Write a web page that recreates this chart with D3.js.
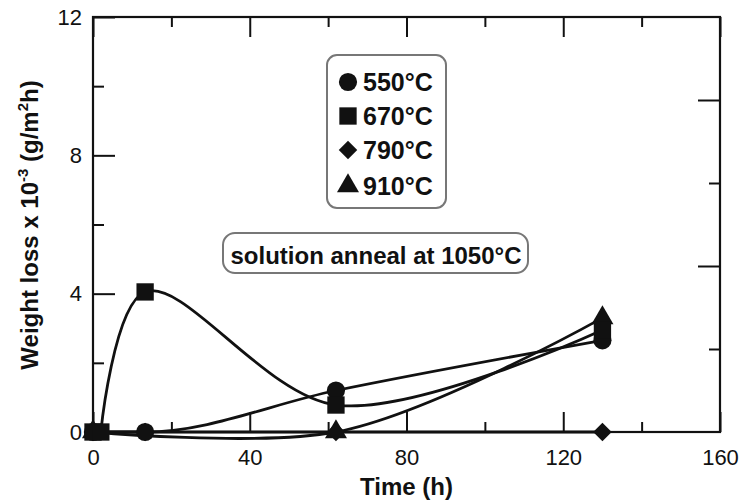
<!DOCTYPE html>
<html>
<head>
<meta charset="utf-8">
<script src="https://cdn.jsdelivr.net/npm/d3@7"></script>
<style>
  body { margin: 0; background: #fff; }
  svg { display: block; font-family: "Liberation Sans", Arial, sans-serif; }
</style>
</head>
<body>
<div id="chart"></div>
<script>
// Data (time in h, weight loss x 10^-3 g/m2h)
const series = ["550°C", "670°C", "790°C", "910°C"];
const time550 = [0, 13.3, 62, 130];
const loss550 = [0, 0, 1.2, 2.65];
const time670 = [0, 2, 13.3, 62, 130];
const loss670 = [0, 0, 4.05, 0.78, 2.95];
const time790 = [0, 13.3, 62, 130];
const loss790 = [0, 0, 0, 0];
const time910 = [0, 62, 130];
const loss910 = [0, 0, 3.3];

const xMajor = [0, 40, 80, 120, 160];
const xMinor = [20, 60, 100, 140];
const yMajor = [0, 4, 8, 12];
const yMinor = [2, 6, 10];

const width = 742, height = 502;

const x = d3.scaleLinear().domain([0, 160]).range([93, 720]);
const y = d3.scaleLinear().domain([0, 12]).range([432, 17]);
// right-hand frame has its own tick spacing in the original
const yRight = d3.scaleLinear().domain([0, 10]).range([432, 17]);

const svg = d3.select("#chart").append("svg")
    .attr("width", width)
    .attr("height", height);

const ink = "#111";

// axes: ticks drawn inward
function styleAxis(g) {
  g.select(".domain").remove();
  g.selectAll(".tick line").attr("stroke", ink).attr("stroke-width", 2);
  g.selectAll(".tick text").attr("fill", ink).style("font-size", "22px");
}

svg.append("g").attr("transform", `translate(0,${y(0)})`)
  .call(d3.axisBottom(x).tickValues(xMajor).tickSize(-20).tickPadding(17).tickFormat(d3.format("d")))
  .call(styleAxis);
svg.append("g").attr("transform", `translate(0,${y(0)})`)
  .call(d3.axisBottom(x).tickValues(xMinor).tickSize(-10).tickFormat(""))
  .call(styleAxis);
svg.append("g").attr("transform", `translate(0,${y(12)})`)
  .call(d3.axisTop(x).tickValues(xMajor).tickSize(-20).tickFormat(""))
  .call(styleAxis);
svg.append("g").attr("transform", `translate(0,${y(12)})`)
  .call(d3.axisTop(x).tickValues(xMinor).tickSize(-10).tickFormat(""))
  .call(styleAxis);

svg.append("g").attr("transform", `translate(${x(0)},0)`)
  .call(d3.axisLeft(y).tickValues(yMajor).tickSize(-22).tickPadding(11))
  .call(styleAxis);
svg.append("g").attr("transform", `translate(${x(0)},0)`)
  .call(d3.axisLeft(y).tickValues(yMinor).tickSize(-11).tickFormat(""))
  .call(styleAxis);
svg.append("g").attr("transform", `translate(${x(160)},0)`)
  .call(d3.axisRight(yRight).tickValues([4, 8]).tickSize(-22).tickFormat(""))
  .call(styleAxis);
svg.append("g").attr("transform", `translate(${x(160)},0)`)
  .call(d3.axisRight(yRight).tickValues([2, 6]).tickSize(-11).tickFormat(""))
  .call(styleAxis);

// frame
svg.append("rect")
  .attr("x", x(0)).attr("y", y(12))
  .attr("width", x(160) - x(0)).attr("height", y(0) - y(12))
  .attr("fill", "none").attr("stroke", ink).attr("stroke-width", 2.2);

// axis titles
svg.append("text")
  .attr("x", (x(0) + x(160)) / 2).attr("y", 495)
  .attr("text-anchor", "middle").attr("fill", ink)
  .style("font-size", "24px").style("font-weight", "bold")
  .text("Time (h)");

const yTitle = svg.append("text")
  .attr("transform", "translate(38,225) rotate(-90)")
  .attr("text-anchor", "middle").attr("fill", ink)
  .style("font-size", "24px").style("font-weight", "bold");
yTitle.append("tspan").text("Weight loss x 10");
yTitle.append("tspan").attr("dy", -10).style("font-size", "15px").text("-3");
yTitle.append("tspan").attr("dy", 10).text(" (g/m");
yTitle.append("tspan").attr("dy", -10).style("font-size", "15px").text("2");
yTitle.append("tspan").attr("dy", 10).text("h)");

// curves (curve shapes chosen per series to follow the original smoothing)
const data = [
  { name: series[0], shape: "circle", curve: d3.curveMonotoneX,
    pts: time550.map((t, i) => [t, loss550[i]]) },
  { name: series[1], shape: "square", curve: d3.curveCatmullRom.alpha(0.5),
    pts: time670.map((t, i) => [t, loss670[i]]) },
  { name: series[2], shape: "diamond", curve: d3.curveLinear,
    pts: time790.map((t, i) => [t, loss790[i]]) },
  { name: series[3], shape: "triangle", curve: d3.curveCatmullRom.alpha(1),
    pts: time910.map((t, i) => [t, loss910[i]]) }
];

svg.append("g")
  .selectAll("path")
  .data(data)
  .join("path")
    // the 670°C curve leaves the axis from its second zero point
    .attr("d", d => d3.line()
        .x(p => x(p[0]))
        .y(p => y(p[1]))
        .curve(d.curve)(d.shape === "square" ? d.pts.slice(1) : d.pts))
    .attr("fill", "none")
    .attr("stroke", ink)
    .attr("stroke-width", 2.8);

const shapes = {
  circle: d3.symbol(d3.symbolCircle, 260),
  square: d3.symbol(d3.symbolSquare, 300),
  diamond: d3.symbol(d3.symbolSquare, 170),
  triangle: d3.symbol(d3.symbolTriangle, 210)
};
const rot = s => (s === "diamond" ? " rotate(45)" : "");

// draw order so squares sit on top at t=0
const drawOrder = [2, 3, 0, 1];
drawOrder.forEach(k => {
  const s = data[k];
  svg.append("g")
    .selectAll("path")
    .data(s.pts)
    .join("path")
      .attr("d", shapes[s.shape])
      .attr("transform", d => `translate(${x(d[0])},${y(d[1])})${rot(s.shape)}`)
      .attr("fill", ink);
});

// legend
const legend = svg.append("g");
legend.append("rect")
  .attr("x", 327).attr("y", 55).attr("width", 119).attr("height", 153)
  .attr("rx", 10)
  .attr("fill", "#fff").attr("stroke", "#777").attr("stroke-width", 2);
const rowY = [82, 116, 150, 186];
data.forEach((s, i) => {
  legend.append("path")
    .attr("d", shapes[s.shape])
    .attr("transform", `translate(348,${rowY[i]})${rot(s.shape)}`)
    .attr("fill", ink);
  legend.append("text")
    .attr("x", 363).attr("y", rowY[i] + 9)
    .attr("fill", ink)
    .style("font-size", "25px").style("font-weight", "bold")
    .text(s.name);
});

// annotation
svg.append("rect")
  .attr("x", 223).attr("y", 233).attr("width", 305).attr("height", 40)
  .attr("rx", 12)
  .attr("fill", "#fff").attr("stroke", "#777").attr("stroke-width", 2);
svg.append("text")
  .attr("x", 376).attr("y", 264)
  .attr("text-anchor", "middle").attr("fill", ink)
  .style("font-size", "24px").style("font-weight", "bold")
  .text("solution anneal at 1050°C");
</script>
</body>
</html>
